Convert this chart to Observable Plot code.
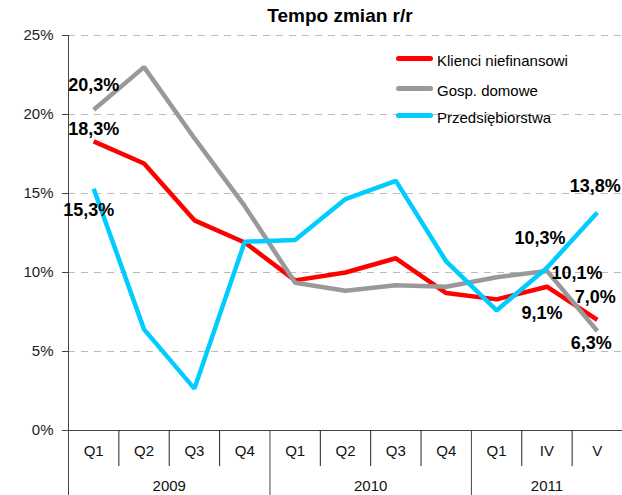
<!DOCTYPE html>
<html>
<head>
<meta charset="utf-8">
<script src="https://cdn.jsdelivr.net/npm/d3@7"></script>
<script src="https://cdn.jsdelivr.net/npm/@observablehq/plot@0.6"></script>
<style>
  body { margin: 0; background: #fff; font-family: "Liberation Sans", Arial, sans-serif; }
  #wrap { position: relative; width: 622px; height: 495px; overflow: hidden; }
  #title { position: absolute; left: 190px; width: 300px; top: 5px; text-align: center; font-weight: bold; font-size: 19px; color: #000; }
  #chart { position: absolute; left: 0; top: 26px; }
  .leg { position: absolute; left: 396px; font-size: 15px; color: #000; height: 18px; line-height: 18px; }
  .leg span.sw { position: absolute; left: 0; top: 4px; width: 37px; height: 5px; border-radius: 3px; }
  .leg span.tx { position: absolute; left: 41px; top: 0; white-space: nowrap; }
</style>
</head>
<body>
<div id="wrap">
  <div id="title">Tempo zmian r/r</div>
  <div id="chart"></div>
  <div id="legend"></div>
</div>
<script>
// ---- data ----
const categories = ["Q1","Q2","Q3","Q4","Q1","Q2","Q3","Q4","Q1","IV","V"];
const years = ["2009","2010","2011"];
const yearStart = [0, 4, 8];
const yearEnd = [3, 7, 10];
const seriesNames = ["Klienci niefinansowi", "Gosp. domowe", "Przedsiębiorstwa"];
const klienci = [18.3, 16.9, 13.3, 11.9, 9.5, 10.0, 10.9, 8.7, 8.3, 9.1, 7.0];
const gosp    = [20.3, 23.0, 18.5, 14.2, 9.35, 8.85, 9.2, 9.1, 9.7, 10.1, 6.3];
const przeds  = [15.3, 6.4, 2.65, 11.95, 12.05, 14.65, 15.8, 10.7, 7.6, 10.3, 13.8];
const yTicks = [0, 5, 10, 15, 20, 25];

// labelled points: [series index, category index]
const labelled = [[1,0],[0,0],[2,0],[2,9],[1,9],[0,9],[2,10],[0,10],[1,10]];
// label offsets (style)
const labelOffsets = [[0,-25],[0,-12],[-5,21],[-7,-30],[30,2],[-5,27],[-2,-26],[-2,-23],[-6,12]];

const colors = ["#ff0000", "#999999", "#00ccff"];
const allSeries = [klienci, gosp, przeds];

const rows = [];
allSeries.forEach((vals, s) => vals.forEach((v, i) => rows.push({s: seriesNames[s], i, v})));

const labelRows = labelled.map(([s, i], k) => ({
  i, v: allSeries[s][i], text: allSeries[s][i].toFixed(1).replace(".", ",") + "%",
  dx: labelOffsets[k][0], dy: labelOffsets[k][1]
}));

const qBounds = d3.range(categories.length - 1).map(i => i + 0.5).filter(b => !yearStart.includes(b + 0.5));
const yBounds = yearStart.map(s => s - 0.5);
const yearRows = years.map((y, k) => ({y, c: (yearStart[k] + yearEnd[k]) / 2}));

const fmt = d => d + "%";

const chart = Plot.plot({
  width: 622,
  height: 469,
  marginTop: 9,
  marginLeft: 68,
  marginRight: 0,
  marginBottom: 65,
  style: {fontFamily: "'Liberation Sans', Arial, sans-serif", fontSize: "15px", color: "#222", background: "transparent"},
  x: {type: "linear", domain: [-0.5, categories.length - 0.5], axis: null},
  y: {domain: [0, 25], axis: null},
  marks: [
    Plot.gridY(yTicks.filter(t => t > 0), {stroke: "#bbbbbb", strokeOpacity: 1, strokeDasharray: "7,6", strokeWidth: 1}),
    Plot.axisY(yTicks, {tickFormat: fmt, tickSize: 6, tickPadding: 9, fontSize: 15, stroke: "#444", fill: "#222", label: null}),
    Plot.ruleY([0], {stroke: "#444"}),
    Plot.axisX(qBounds, {anchor: "bottom", tickSize: 36, tickFormat: () => "", stroke: "#222", label: null}),
    Plot.axisX(yBounds, {anchor: "bottom", tickSize: 65, tickFormat: () => "", stroke: "#444", label: null}),
    Plot.ruleX([-0.5], {stroke: "#444"}),
    ...seriesNames.map((name, s) =>
      Plot.line(rows.filter(r => r.s === name), {x: "i", y: "v", stroke: colors[s], strokeWidth: 4.5, strokeLinejoin: "miter", strokeLinecap: "butt"})
    ),
    ...labelRows.map(r =>
      Plot.text([r], {x: "i", y: "v", text: "text", dx: r.dx, dy: r.dy, fontWeight: "bold", fontSize: 18, fill: "#000"})
    ),
    Plot.text(categories, {x: (d, i) => i, text: d => d, frameAnchor: "bottom", dy: 25, fontSize: 15, fill: "#111"}),
    Plot.text(yearRows, {x: "c", text: "y", frameAnchor: "bottom", dy: 60, fontSize: 15, fill: "#111"})
  ]
});
document.getElementById("chart").appendChild(chart);

// legend (HTML overlay)
const legend = document.getElementById("legend");
const legTops = [52, 82, 109];
seriesNames.forEach((name, s) => {
  const d = document.createElement("div");
  d.className = "leg";
  d.style.top = legTops[s] + "px";
  d.innerHTML = `<span class="sw" style="background:${colors[s]}"></span><span class="tx">${name}</span>`;
  legend.appendChild(d);
});
</script>
</body>
</html>
